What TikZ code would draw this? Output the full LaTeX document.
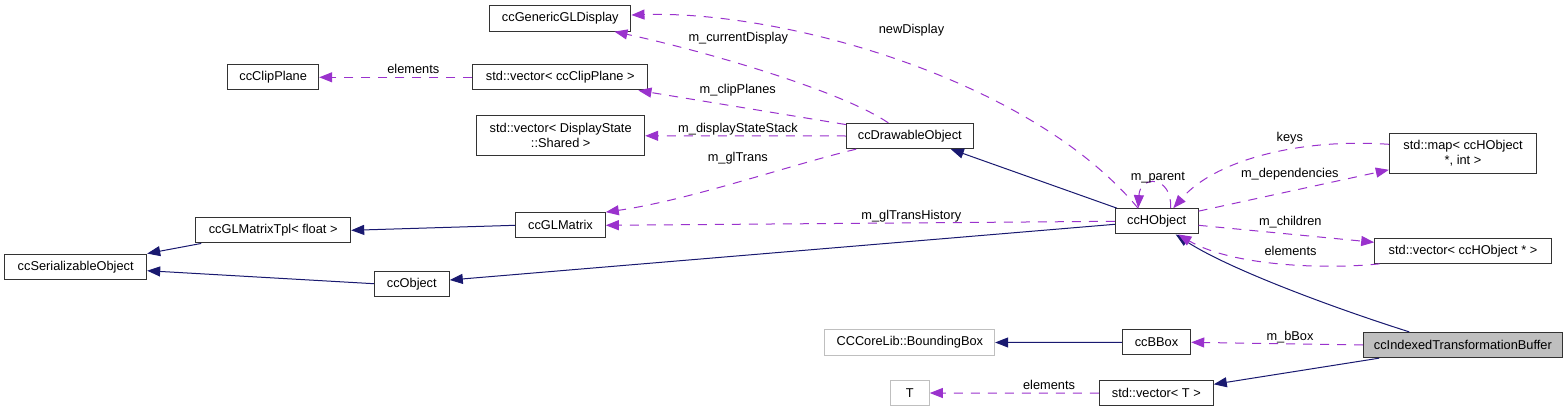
\documentclass[tikz,border=0pt]{standalone}
\usepackage{fontspec}
\setmainfont{Liberation Sans}
\usetikzlibrary{arrows.meta}
\definecolor{navyc}{HTML}{191970}
\definecolor{purp}{HTML}{9A32CD}
\definecolor{bord}{HTML}{333333}
\definecolor{gbord}{HTML}{BFBFBF}
\definecolor{hifill}{HTML}{BFBFBF}
\begin{document}
\begin{tikzpicture}[x=1pt,y=-1pt,font=\fontsize{12.8}{15}\selectfont,
  box/.style={draw=bord, line width=1pt, fill=white, inner sep=0pt, align=center, minimum height=25.3pt},
  gbox/.style={box, draw=gbord},
  hbox/.style={box, fill=hifill},
  inh/.style={draw=navyc, line width=1pt, -{Triangle[length=13pt,width=10pt]}},
  usage/.style={draw=purp, line width=1pt, dash pattern=on 9pt off 8pt, -{Triangle[length=13pt,width=10pt]}},
  lbl/.style={anchor=base, inner sep=0pt, text=black}]
\useasboundingbox[fill=white] (0,0) rectangle (1568,412);
% nodes
\node[box, minimum width=142pt] (sero) at (75.7,266.7) {ccSerializableObject};
\node[box, minimum width=155pt] (tpl) at (273.2,230.3) {ccGLMatrixTpl< float >};
\node[box, minimum width=75pt] (obj) at (411.8,283.7) {ccObject};
\node[box, minimum width=91pt] (clip) at (273.2,77.3) {ccClipPlane};
\node[box, minimum width=141.3pt] (disp) at (560.3,18.5) {ccGenericGLDisplay};
\node[box, minimum width=174.7pt] (vclip) at (560.3,77.3) {std::vector< ccClipPlane >};
\node[box, minimum width=168pt, minimum height=39.7pt] (vdss) at (560.7,135.8) {std::vector< DisplayState\\::Shared >};
\node[box, minimum width=89.6pt] (glm) at (560.5,225.3) {ccGLMatrix};
\node[box, minimum width=127pt] (draw) at (909.8,136) {ccDrawableObject};
\node[box, minimum width=82.7pt] (hobj) at (1156.7,221.3) {ccHObject};
\node[box, minimum width=147.4pt, minimum height=40pt] (map) at (1463,153.3) {std::map< ccHObject\\*, int >};
\node[box, minimum width=176.6pt] (vho) at (1463,250.7) {std::vector< ccHObject * >};
\node[hbox, minimum width=198.3pt] (itb) at (1462.85,345) {ccIndexedTransformationBuffer};
\node[box, minimum width=68.4pt] (bbox) at (1156.5,342.3) {ccBBox};
\node[gbox, minimum width=169.7pt] (bb) at (909.8,342.5) {CCCoreLib::BoundingBox};
\node[box, minimum width=114pt] (vt) at (1156.3,393.2) {std::vector< T >};
\node[gbox, minimum width=39pt] (T) at (909.8,393) {T};
% inheritance
\draw[inh] ([xshift=6pt]tpl.south west) -- (sero.north east);
\draw[inh] (obj.west) -- ([yshift=-4pt]sero.east);
\draw[inh] (glm.west) -- (tpl.east);
\draw[inh] ([yshift=-3pt]hobj.west) -- ([yshift=3.7pt]obj.east);
\draw[inh] ([xshift=2pt]hobj.north west) -- ([xshift=-23pt]draw.south east);
\draw[inh] ([xshift=46pt]itb.north west) .. controls (1340,310) and (1230,270) .. ([xshift=19pt]hobj.south);
\draw[inh] (bbox.west) -- (bb.east);
\draw[inh] ([xshift=16pt]itb.south west) -- ([yshift=8.9pt]vt.east);
% usage
\draw[usage] (itb.west) -- (bbox.east) node[lbl] (l1) at (1290,340.3) {m\_bBox};
\draw[usage] (vt.west) -- (T.east) node[lbl] (l2) at (1049,389.7) {elements};
\draw[usage] (vclip.west) -- (clip.east) node[lbl] (l3) at (413.3,74) {elements};
\draw[usage] ([xshift=-21.5pt]draw.north) .. controls (840,90) and (700,50) .. ([xshift=-17pt]disp.south east) node[lbl] (l4) at (738.3,41.3) {m\_currentDisplay};
\draw[usage] ([xshift=-18.7pt]hobj.north) .. controls (1030,78) and (780,10) .. ([yshift=3.5pt]disp.east) node[lbl] (l5) at (911.5,33.3) {newDisplay};
\draw[usage] ([yshift=-1.7pt]draw.north west) -- ([xshift=-9.7pt]vclip.south east) node[lbl] (l6) at (737.8,93.3) {m\_clipPlanes};
\draw[usage] (draw.west) -- (vdss.east) node[lbl] (l7) at (738,132.3) {m\_displayStateStack};
\draw[usage] ([xshift=10.4pt]draw.south west) .. controls (790,165) and (690,200) .. (glm.north east) node[lbl] (l8) at (737.8,161.3) {m\_glTrans};
\draw[usage] (hobj.west) -- (glm.east) node[lbl] (l9) at (911.3,219) {m\_glTransHistory};
\draw[usage] ([xshift=14pt]hobj.north) .. controls (1172,175) and (1140,175) .. ([xshift=-18.5pt]hobj.north) node[lbl] (l10) at (1157.8,180) {m\_parent};
\draw[usage] ([yshift=-3pt]hobj.north east) -- ([yshift=4pt]map.south west) node[lbl] (l11) at (1289.8,177.3) {m\_dependencies};
\draw[usage] ([yshift=9pt]map.west) .. controls (1300,138) and (1215,160) .. ([xshift=16.6pt]hobj.north) node[lbl] (l12) at (1289.8,141.3) {keys};
\draw[usage] ([yshift=-4pt]hobj.east) -- ([yshift=8.4pt]vho.west) node[lbl] (l13) at (1290.3,225.7) {m\_children};
\draw[usage] ([xshift=5.3pt]vho.south west) .. controls (1320,270) and (1230,265) .. ([xshift=21.6pt]hobj.south) node[lbl] (l14) at (1290.5,255.3) {elements};
\end{tikzpicture}
\end{document}
